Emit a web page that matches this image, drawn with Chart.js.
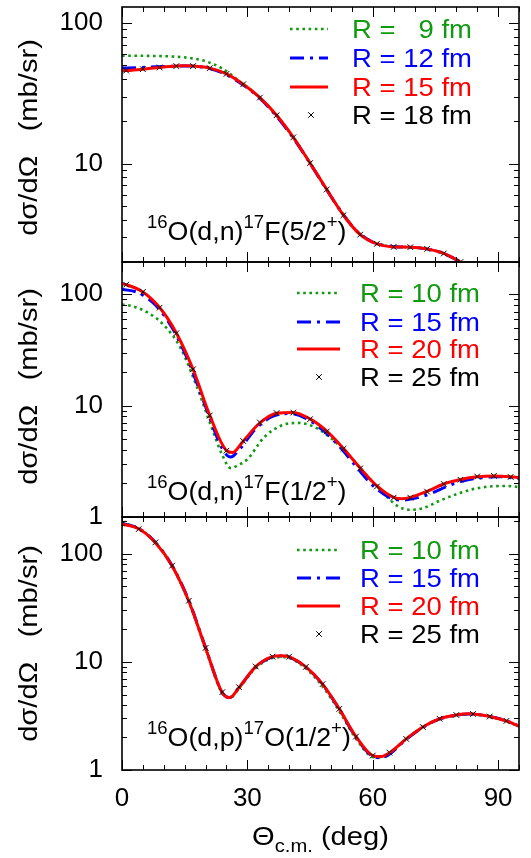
<!DOCTYPE html>
<html><head><meta charset="utf-8">
<script src="https://cdn.jsdelivr.net/npm/chart.js@4.4.1/dist/chart.umd.min.js"></script>
<style>
html,body{margin:0;padding:0;background:#fff;}
#wrap{position:relative;width:531px;height:858px;overflow:hidden;background:#fff;}
canvas{position:absolute;left:0;}
</style></head><body>
<div id="wrap">
<canvas id="c1" width="531" height="342" style="top:-40px"></canvas>
<canvas id="c2" width="531" height="335" style="top:222px"></canvas>
<canvas id="c3" width="531" height="381" style="top:477px"></canvas>
</div>
<script>
// ---------- DATA ----------
const X_TICKS = [0, 30, 60, 90];
const Y_TICK_LABELS = ['1', '10', '100'];

// Panel A : 16O(d,n)17F(5/2+)
const A_LABELS = ['R =   9 fm', 'R = 12 fm', 'R = 15 fm', 'R = 18 fm'];
const A_theta_9  = [0,4,8,12,16,20,24,28,32,36,40,44,48,52,56,60,64,68,72,76,80,83];
const A_R9       = [58.5,58.5,58.3,57.8,56.5,53.5,47.5,38.8,31.3,23.8,16.9,11.3,7.3,4.8,3.38,2.78,2.59,2.55,2.50,2.35,2.08,1.85];
const A_theta_12 = [0,4,8,12,16,20,24,28,32,36,40,44,48,52,56,60,64,68,72,76,80,83];
const A_R12      = [47.8,48.2,48.8,49.3,49.5,48.2,44.3,38.0,31.0,23.5,16.7,11.2,7.25,4.75,3.36,2.77,2.59,2.55,2.50,2.35,2.08,1.85];
const A_theta_15 = [0,1,5,9,13,15,17,21,25,29,33,37,41,45,49,53,57,61,65,69,73,77,81,83];
const A_R15      = [45.7,45.9,47.0,48.3,49.4,49.7,49.4,47.8,43.5,36.7,29.5,22.1,15.4,10.1,6.56,4.30,3.13,2.69,2.56,2.55,2.48,2.30,2.0,1.85];
const A_theta_18 = [1,5,9,13,17,21,25,29,33,37,41,45,49,53,57,61,65,69,73,77,81];
const A_R18      = [45.9,47.0,48.3,49.4,49.4,47.8,43.5,36.7,29.5,22.1,15.4,10.1,6.56,4.30,3.13,2.69,2.56,2.55,2.48,2.30,2.0];

// Panel B : 16O(d,n)17F(1/2+)
const B_LABELS = ['R = 10 fm', 'R = 15 fm', 'R = 20 fm', 'R = 25 fm'];
const B_theta_10 = [0,2,6,10,14,18,20,22,24,26,28,30,34,38,42,46,50,54,58,62,66,69,72,76,80,84,88,92,95];
const B_R10      = [81,79,69,53,33,14.5,9.0,5.6,3.6,2.75,2.95,3.3,5.2,6.6,7.0,6.45,5.1,3.7,2.5,1.72,1.25,1.16,1.2,1.4,1.6,1.78,1.88,1.9,1.86];
const B_theta_15 = [0,4,8,12,16,20,24,26,28,32,36,40,44,48,52,56,60,64,67,70,74,78,82,86,90,95];
const B_R15      = [111,103,80,50,24.5,9.8,4.1,3.45,4.0,6.2,8.0,8.5,7.7,6.05,4.3,2.85,1.92,1.5,1.42,1.47,1.63,1.9,2.12,2.25,2.3,2.22];
const B_theta_20 = [0,1,5,9,13,17,21,25,26.5,29,33,37,41,45,49,53,57,61,65,67,69,73,77,81,85,89,93,95];
const B_R20      = [124,122,105,76,45,21.2,8.2,3.95,3.8,4.8,7.0,8.55,8.7,7.6,5.9,4.12,2.75,1.9,1.5,1.46,1.5,1.7,1.98,2.17,2.3,2.34,2.3,2.26];
const B_theta_25 = [1,5,9,13,17,21,25,29,33,37,41,45,49,53,57,61,65,69,73,77,81,85,89,93];
const B_R25      = [122,105,75.8,44.7,21.2,8.15,3.94,4.81,7.05,8.57,8.67,7.56,5.86,4.10,2.73,1.88,1.49,1.49,1.69,1.98,2.16,2.31,2.34,2.29];

// Panel C : 16O(d,p)17O(1/2+)
const C_LABELS = ['R = 10 fm', 'R = 15 fm', 'R = 20 fm', 'R = 25 fm'];
const C_theta    = [0,4,8,12,16,20,24,25.8,28,32,36,38,40,44,48,52,56,60,62,64,68,72,76,80,83,88,92,95];
const C_R10      = [193,173,128,77,36,13.2,5.1,4.65,5.7,8.8,10.9,11.1,10.9,8.7,5.95,3.5,1.95,1.32,1.30,1.42,1.93,2.48,2.96,3.21,3.28,3.11,2.82,2.53];
const C_R15      = [192,172,128,78,37,13.6,5.2,4.7,5.8,9.0,11.15,11.35,11.1,8.95,6.2,3.65,2.0,1.34,1.30,1.40,1.92,2.48,2.97,3.22,3.30,3.13,2.85,2.55];
const C_R20      = [190,171,127,77.5,36.5,13.5,5.2,4.68,5.8,9.05,11.2,11.4,11.15,9.0,6.24,3.68,2.04,1.36,1.33,1.44,1.94,2.5,2.98,3.23,3.31,3.13,2.84,2.55];
const C_theta_25 = [0,4,8,12,16,20,24,28,32,36,40,44,48,52,56,60,64,68,72,76,80,84,88,92];
const C_R25      = [191,170,128,78,36.9,13.5,5.26,5.85,9.08,11.2,11.2,9.0,6.24,3.68,2.04,1.36,1.45,1.94,2.5,2.98,3.23,3.3,3.13,2.85];

// ---------- STYLES ----------
const GREEN = '#109a10', BLUE = '#0000ff', RED = '#ff0000', BLACK = '#000000';
const FONT = "'Liberation Sans', Arial, Helvetica, sans-serif";
Chart.defaults.font.family = FONT;
Chart.defaults.color = '#000';

const styleGreen = {borderColor: GREEN, borderWidth: 2.6, borderDash: [2.6, 3.6], borderCapStyle: 'butt', pointRadius: 0, fill: false, cubicInterpolationMode: 'monotone', order: 4};
const styleBlue  = {borderColor: BLUE, borderWidth: 3, borderDash: [14, 6, 3, 6], borderCapStyle: 'butt', pointRadius: 0, fill: false, cubicInterpolationMode: 'monotone', order: 3};
const styleRed   = {borderColor: RED, borderWidth: 3, pointRadius: 0, fill: false, cubicInterpolationMode: 'monotone', order: 2};
const styleCross = {showLine: false, pointStyle: 'crossRot', pointRadius: 4, pointBorderColor: BLACK, pointBorderWidth: 1, borderColor: BLACK, backgroundColor: BLACK, order: 1};

function ds(label, xs, ys, style) {
  return Object.assign({label: label, data: xs.map((x, i) => ({x: x, y: ys[i]}))}, style);
}

// ---------- TEXT HELPERS ----------
function drawRich(ctx, parts, x, y, size, supSize, sx, raise, drop) {
  let cx = x;
  parts.forEach(p => {
    const fs = (p.sup || p.sub) ? supSize : size;
    ctx.font = fs + 'px ' + FONT;
    const dy = p.sup ? -raise : (p.sub ? drop : 0);
    ctx.save();
    ctx.translate(cx, y + dy);
    ctx.scale(sx, 1);
    ctx.textAlign = 'left';
    ctx.textBaseline = 'alphabetic';
    ctx.fillText(p.t, 0, 0);
    ctx.restore();
    cx += ctx.measureText(p.t).width * sx;
  });
  return cx - x;
}
function richWidth(ctx, parts, size, supSize, sx) {
  let w = 0;
  parts.forEach(p => {
    ctx.font = ((p.sup || p.sub) ? supSize : size) + 'px ' + FONT;
    w += ctx.measureText(p.t).width * sx;
  });
  return w;
}

// ---------- PLUGINS ----------
const frameTicks = {
  id: 'frameTicks',
  afterDatasetsDraw(chart) {
    const {ctx, chartArea: a} = chart;
    const x = chart.scales.x, y = chart.scales.y;
    ctx.save();
    ctx.strokeStyle = '#000';
    ctx.lineWidth = 1;
    ctx.setLineDash([]);
    ctx.beginPath();
    for (let v = 0; v <= x.max + 1e-9; v += 5) {
      const px = Math.round(x.getPixelForValue(v)) + 0.5;
      const len = (v % 30 === 0) ? 10 : 5;
      ctx.moveTo(px, a.bottom); ctx.lineTo(px, a.bottom - len);
      ctx.moveTo(px, a.top); ctx.lineTo(px, a.top + len);
    }
    const lo = Math.floor(Math.log10(y.min)), hi = Math.ceil(Math.log10(y.max));
    for (let d = lo; d <= hi; d++) {
      for (let m = 1; m <= 9; m++) {
        const v = m * Math.pow(10, d);
        if (v < y.min * 0.999 || v > y.max * 1.001) continue;
        const py = Math.round(y.getPixelForValue(v)) + 0.5;
        const len = (m === 1) ? 10 : 5;
        ctx.moveTo(a.left, py); ctx.lineTo(a.left + len, py);
        ctx.moveTo(a.right, py); ctx.lineTo(a.right - len, py);
      }
    }
    ctx.stroke();
    ctx.lineWidth = 1.6;
    ctx.strokeRect(a.left, a.top, a.right - a.left, a.bottom - a.top);
    ctx.restore();
  }
};

const panelText = {
  id: 'panelText',
  afterDraw(chart, args, o) {
    const ctx = chart.ctx, a = chart.chartArea;
    const off = o.canvasTop;
    ctx.save();
    ctx.fillStyle = '#000';
    // y-axis title
    ctx.save();
    ctx.translate(37, (a.top + a.bottom) / 2 + o.titleShift);
    ctx.rotate(-Math.PI / 2);
    ctx.scale(1.12, 1);
    ctx.font = '26px ' + FONT;
    ctx.textAlign = 'center';
    ctx.textBaseline = 'alphabetic';
    ctx.fillText('dσ/dΩ   (mb/sr)', 0, 0);
    ctx.restore();
    // legend
    const ds = chart.data.datasets;
    o.legendOrder.forEach((idx, k) => {
      const d = ds[idx];
      const cy = o.legendRows[k] - off;
      if (d.showLine === false) {
        const cx = o.crossX, r = 2.8;
        ctx.strokeStyle = BLACK; ctx.lineWidth = 1; ctx.setLineDash([]);
        ctx.beginPath();
        ctx.moveTo(cx - r, cy - r); ctx.lineTo(cx + r, cy + r);
        ctx.moveTo(cx - r, cy + r); ctx.lineTo(cx + r, cy - r);
        ctx.stroke();
      } else {
        ctx.strokeStyle = d.borderColor; ctx.lineWidth = d.borderWidth;
        ctx.setLineDash(d.borderDash || []);
        ctx.lineCap = 'butt';
        ctx.beginPath();
        ctx.moveTo(o.sampleX0, cy); ctx.lineTo(o.sampleX1, cy);
        ctx.stroke();
        ctx.setLineDash([]);
      }
      ctx.fillStyle = o.legendColors[k];
      ctx.save();
      ctx.translate(o.textX, cy + 8.5);
      ctx.scale(1.1, 1);
      ctx.font = '25px ' + FONT;
      ctx.textAlign = 'left';
      ctx.textBaseline = 'alphabetic';
      ctx.fillText(d.label, 0, 0);
      ctx.restore();
    });
    // reaction annotation
    ctx.fillStyle = '#000';
    drawRich(ctx, o.reaction, o.reactX, o.reactY - off, 26, 18, 1.03, 12, 0);
    // x-axis title
    if (o.xTitle) {
      const parts = [{t: 'Θ'}, {t: 'c.m.', sub: true}, {t: ' (deg)'}];
      const w = richWidth(ctx, parts, 26, 18, 1.12);
      drawRich(ctx, parts, (a.left + a.right) / 2 - w / 2, 845 - off, 26, 18, 1.12, 0, 7);
    }
    ctx.restore();
  }
};

function isDecade(v) {
  const l = Math.log10(v);
  return Math.abs(l - Math.round(l)) < 1e-9;
}

const PLOT_LEFT = 122, PLOT_RIGHT = 519;

function makeChart(id, canvasTop, top, bottom, yMin, yMax, datasets, textOpts, showX) {
  const canvas = document.getElementById(id);
  const H = canvas.height;
  const padTop = top - canvasTop;
  const padBottom = showX ? 0 : (canvasTop + H - bottom);
  textOpts.canvasTop = canvasTop;
  return new Chart(canvas, {
    type: 'line',
    data: {datasets: datasets},
    options: {
      responsive: false,
      devicePixelRatio: 1,
      animation: false,
      events: [],
      layout: {autoPadding: false, padding: {left: 0, right: 531 - PLOT_RIGHT, top: padTop, bottom: padBottom}},
      plugins: {legend: {display: false}, tooltip: {enabled: false}, panelText: textOpts},
      scales: {
        x: {
          type: 'linear', min: 0, max: 95, display: showX,
          grid: {display: false, drawTicks: false},
          border: {display: false},
          ticks: {stepSize: 30, includeBounds: false, padding: 13, color: '#000', font: {size: 26}, maxRotation: 0, autoSkip: false},
          afterFit: s => { s.height = showX ? (canvasTop + H - bottom) : 0; }
        },
        y: {
          type: 'logarithmic', min: yMin, max: yMax,
          grid: {display: false, drawTicks: false},
          border: {display: false},
          ticks: {
            autoSkip: false, padding: 19, color: '#000', font: {size: 26},
            callback: v => (isDecade(v) && Y_TICK_LABELS.includes(String(Math.round(v)))) ? String(Math.round(v)) : ''
          },
          afterFit: s => { s.width = PLOT_LEFT; }
        }
      }
    },
    plugins: [frameTicks, panelText]
  });
}

const reactA = [{t: '16', sup: true}, {t: 'O(d,n)'}, {t: '17', sup: true}, {t: 'F(5/2'}, {t: '+', sup: true}, {t: ')'}];
const reactB = [{t: '16', sup: true}, {t: 'O(d,n)'}, {t: '17', sup: true}, {t: 'F(1/2'}, {t: '+', sup: true}, {t: ')'}];
const reactC = [{t: '16', sup: true}, {t: 'O(d,p)'}, {t: '17', sup: true}, {t: 'O(1/2'}, {t: '+', sup: true}, {t: ')'}];
const LEG_COLORS = [GREEN, BLUE, RED, BLACK];

makeChart('c1', -40, 7, 262, 2, 130, [
  ds(A_LABELS[0], A_theta_9, A_R9, styleGreen),
  ds(A_LABELS[1], A_theta_12, A_R12, styleBlue),
  ds(A_LABELS[2], A_theta_15, A_R15, styleRed),
  ds(A_LABELS[3], A_theta_18, A_R18, styleCross)
], {legendOrder: [0,1,2,3], legendRows: [29, 58, 87, 115], legendColors: LEG_COLORS,
    sampleX0: 290, sampleX1: 328, crossX: 311, textX: 352, titleShift: 3,
    reaction: reactA, reactX: 147, reactY: 240}, false);

makeChart('c2', 222, 262, 517, 1, 195, [
  ds(B_LABELS[0], B_theta_10, B_R10, styleGreen),
  ds(B_LABELS[1], B_theta_15, B_R15, styleBlue),
  ds(B_LABELS[2], B_theta_20, B_R20, styleRed),
  ds(B_LABELS[3], B_theta_25, B_R25, styleCross)
], {legendOrder: [0,1,2,3], legendRows: [293, 322, 349, 377], legendColors: LEG_COLORS,
    sampleX0: 297, sampleX1: 340, crossX: 319, textX: 360, titleShift: -3,
    reaction: reactB, reactY: 500, reactX: 147}, false);

makeChart('c3', 477, 517, 770, 1, 220, [
  ds(C_LABELS[0], C_theta, C_R10, styleGreen),
  ds(C_LABELS[1], C_theta, C_R15, styleBlue),
  ds(C_LABELS[2], C_theta, C_R20, styleRed),
  ds(C_LABELS[3], C_theta_25, C_R25, styleCross)
], {legendOrder: [0,1,2,3], legendRows: [550, 578, 606, 634], legendColors: LEG_COLORS,
    sampleX0: 297, sampleX1: 340, crossX: 319, textX: 360, titleShift: 0,
    reaction: reactC, reactY: 746, reactX: 147, xTitle: true}, true);
</script>
</body></html>
